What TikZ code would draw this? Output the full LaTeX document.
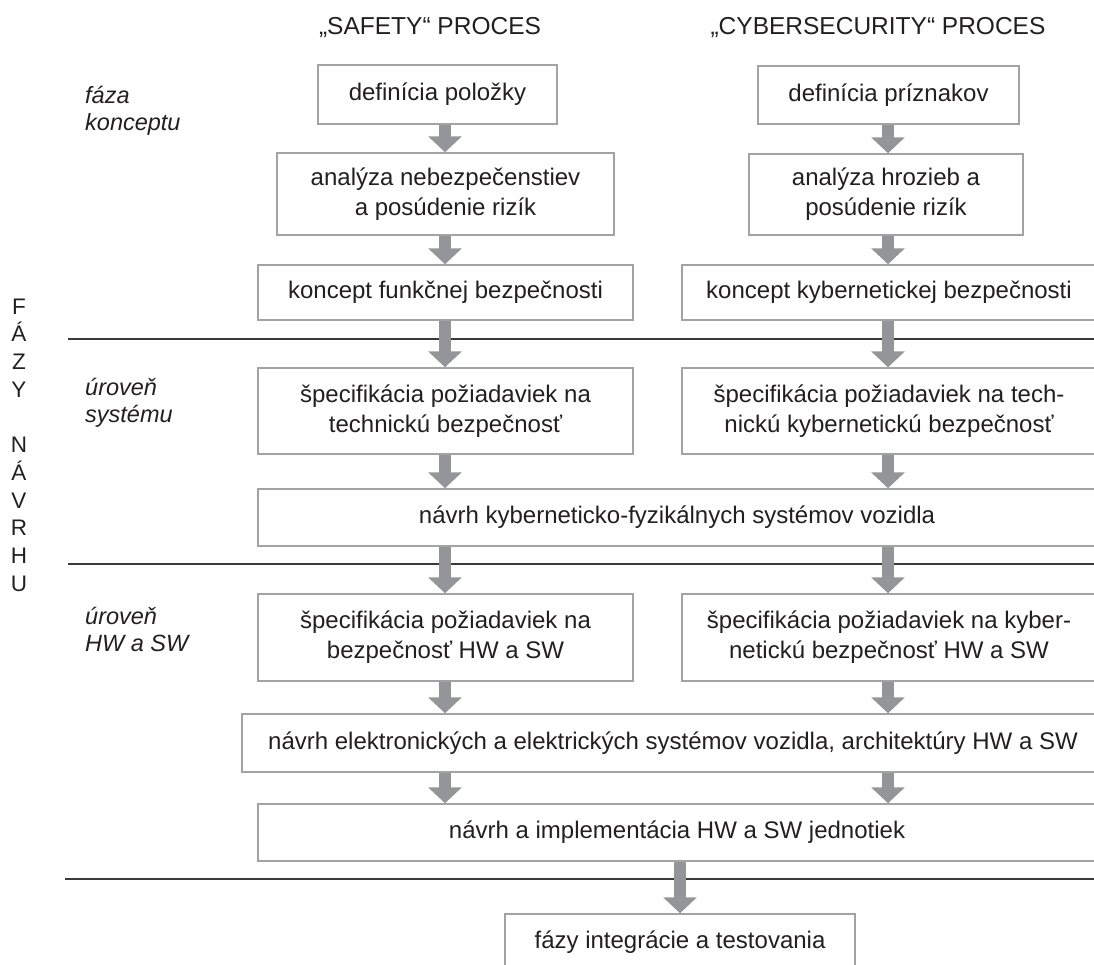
\documentclass[tikz,border=0pt]{standalone}
\usepackage{fontspec}
\setmainfont{Liberation Sans}
\usetikzlibrary{arrows.meta}
\definecolor{boxline}{HTML}{A3A3A3}
\definecolor{arrowgray}{HTML}{939598}
\definecolor{ink}{HTML}{231F20}
\definecolor{rule}{HTML}{3A3A3A}
\begin{document}
\begin{tikzpicture}[x=1pt,y=-1pt,
  stepbox/.style={draw=boxline,line width=1.5pt,fill=white,inner sep=0pt,
    align=center,text=ink,font=\fontsize{24}{30}\selectfont},
  arr/.style={draw=arrowgray,line width=12pt,
    -{Triangle[width=33pt,length=16pt]},arrowgray},
  phase/.style={anchor=west,align=left,text=ink,inner sep=0pt,
    font=\fontsize{23.5}{27}\selectfont\itshape},
  head/.style={text=ink,font=\fontsize{24.5}{30}\selectfont},
  sep/.style={draw=rule,line width=1.5pt}]
\useasboundingbox (0,0) rectangle (1094,964);
\clip (0,0) rectangle (1094,964);

% column axes for the arrows
\coordinate (cl) at (445,0);
\coordinate (cr) at (888,0);
\coordinate (cm) at (680,0);

% headings
\node[head] (hs) at (430,28) {„SAFETY“ PROCES};
\node[head] (hc) at (878,28) {„CYBERSECURITY“ PROCES};

% vertical title
\node[text=ink,align=center,font=\fontsize{22.5}{27.7}\selectfont] (title) at (19,445)
  {F\\Á\\Z\\Y\\[27.7pt]N\\Á\\V\\R\\H\\U};

% phase labels
\node[phase] (p1) at (85,111) {fáza\\konceptu};
\node[phase] (p2) at (85,403) {úroveň\\systému};
\node[phase] (p3) at (85,629) {úroveň\\HW a SW};

% separators between phases
\draw[sep] (68,339) -- (1094,339);
\draw[sep] (68,564) -- (1094,564);
\draw[sep] (65,879) -- (1094,879);

% safety process
\node[stepbox,minimum width=239pt,minimum height=59pt] (b1) at (437.5,94.5) {definícia položky};
\node[stepbox,minimum width=337pt,minimum height=82pt] (b2) at (445.5,194) {analýza nebezpečenstiev\\a posúdenie rizík};
\node[stepbox,minimum width=375pt,minimum height=55pt] (b3) at (445.5,292.5) {koncept funkčnej bezpečnosti};
\node[stepbox,minimum width=375pt,minimum height=86pt] (b4) at (445.5,411) {špecifikácia požiadaviek na\\technickú bezpečnosť};
\node[stepbox,minimum width=375pt,minimum height=87pt] (b6) at (445.5,637.5) {špecifikácia požiadaviek na\\bezpečnosť HW a SW};

% cybersecurity process
\node[stepbox,minimum width=261pt,minimum height=58pt] (r1) at (888.5,95) {definícia príznakov};
\node[stepbox,minimum width=274pt,minimum height=81pt] (r2) at (886,194.5) {analýza hrozieb a\\posúdenie rizík};
\node[stepbox,minimum width=414pt,minimum height=55pt] (r3) at (889,292.5) {koncept kybernetickej bezpečnosti};
\node[stepbox,minimum width=414pt,minimum height=86pt] (r4) at (889,411) {špecifikácia požiadaviek na tech-\\nickú kybernetickú bezpečnosť};
\node[stepbox,minimum width=414pt,minimum height=87pt] (r6) at (889,637.5) {špecifikácia požiadaviek na kyber-\\netickú bezpečnosť HW a SW};

% shared steps
\node[stepbox,minimum width=838pt,minimum height=57pt] (w5) at (677,517.5) {návrh kyberneticko-fyzikálnych systémov vozidla};
\node[stepbox,minimum width=854pt,minimum height=58pt] (w7) at (669,743) {\hspace*{8pt}návrh elektronických a elektrických systémov vozidla, architektúry HW a SW};
\node[stepbox,minimum width=838pt,minimum height=57pt] (w8) at (677,832.5) {návrh a implementácia HW a SW jednotiek};
\node[stepbox,minimum width=350pt,minimum height=57pt] (it) at (680,942.5) {fázy integrácie a testovania};

% flow arrows, safety side
\draw[arr] (b1.south -| cl) -- (b2.north -| cl);
\draw[arr] (b2.south -| cl) -- (b3.north -| cl);
\draw[arr] (b3.south -| cl) -- (b4.north -| cl);
\draw[arr] (b4.south -| cl) -- (w5.north -| cl);
\draw[arr] (w5.south -| cl) -- (b6.north -| cl);
\draw[arr] (b6.south -| cl) -- (w7.north -| cl);
\draw[arr] (w7.south -| cl) -- (w8.north -| cl);

% flow arrows, cybersecurity side
\draw[arr] (r1.south -| cr) -- (r2.north -| cr);
\draw[arr] (r2.south -| cr) -- (r3.north -| cr);
\draw[arr] (r3.south -| cr) -- (r4.north -| cr);
\draw[arr] (r4.south -| cr) -- (w5.north -| cr);
\draw[arr] (w5.south -| cr) -- (r6.north -| cr);
\draw[arr] (r6.south -| cr) -- (w7.north -| cr);
\draw[arr] (w7.south -| cr) -- (w8.north -| cr);

% into integration and testing
\draw[arr] (w8.south -| cm) -- (it.north -| cm);
\end{tikzpicture}
\end{document}
